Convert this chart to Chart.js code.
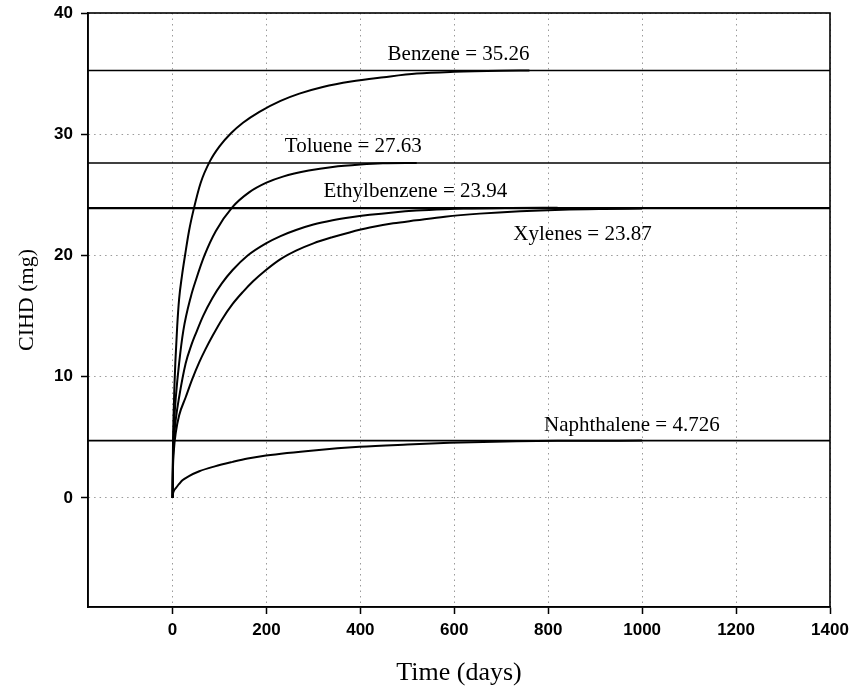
<!DOCTYPE html>
<html>
<head>
<meta charset="utf-8">
<script src="https://cdn.jsdelivr.net/npm/chart.js@4.4.0/dist/chart.umd.min.js"></script>
<style>
  html, body { margin: 0; padding: 0; background: #fff; }
  #wrap { width: 852px; height: 690px; }
</style>
</head>
<body>
<div id="wrap"><canvas id="c" width="852" height="690"></canvas></div>
<script>
// ---- Data ----
const xTicks = [0, 200, 400, 600, 800, 1000, 1200, 1400];
const yTicks = [0, 10, 20, 30, 40];

const compounds = ['Benzene', 'Toluene', 'Ethylbenzene', 'Xylenes', 'Naphthalene'];
const asymptotes = [35.26, 27.63, 23.94, 23.87, 4.726];

const benzeneT = [0, 1, 2, 4, 6, 10, 14, 20, 27, 35, 45, 60, 80, 100, 125, 150, 185, 230, 270, 320, 380, 450, 520, 600, 700, 760];
const benzeneY = [0, 4.5, 6.5, 9.2, 11.2, 14.2, 16.4, 18.3, 20.1, 22.0, 23.8, 26.0, 27.8, 29.0, 30.1, 30.95, 31.85, 32.75, 33.35, 33.9, 34.35, 34.7, 35.0, 35.15, 35.24, 35.26];

const tolueneT = [0, 1, 2, 4, 7, 14, 23, 39, 50, 68, 92, 128, 163, 200, 235, 290, 341, 400, 448, 520];
const tolueneY = [0, 3.4, 4.8, 6.6, 8.3, 11.1, 13.8, 16.6, 18.0, 20.0, 22.0, 24.0, 25.2, 26.0, 26.5, 27.0, 27.3, 27.5, 27.6, 27.63];

const ethylT = [0, 1, 3, 7, 14, 28, 40, 50, 65, 85, 105, 128, 160, 199, 230, 263, 300, 341, 380, 420, 470, 519, 580, 620, 720, 820];
const ethylY = [0, 3.0, 4.8, 6.5, 8.3, 11.1, 12.6, 13.6, 15.0, 16.5, 17.7, 18.8, 20.0, 21.0, 21.6, 22.1, 22.55, 22.9, 23.15, 23.35, 23.55, 23.7, 23.82, 23.87, 23.92, 23.94];

const xyleneT = [0, 1, 3, 7, 14, 28, 42, 57, 70, 85, 105, 128, 150, 171, 199, 230, 263, 300, 340, 377, 420, 470, 519, 580, 654, 740, 830, 920, 1000];
const xyleneY = [0, 2.5, 4.0, 5.4, 6.8, 8.3, 9.8, 11.2, 12.25, 13.35, 14.7, 16.0, 17.0, 17.85, 18.8, 19.7, 20.4, 21.0, 21.5, 21.9, 22.3, 22.65, 22.9, 23.2, 23.45, 23.65, 23.78, 23.84, 23.87];

const naphT = [0, 1, 3, 7, 14, 21, 35, 57, 90, 128, 160, 199, 306, 398, 500, 590, 732, 850, 1000];
const naphY = [0, 0.35, 0.6, 0.8, 1.15, 1.45, 1.8, 2.2, 2.6, 2.97, 3.25, 3.5, 3.94, 4.21, 4.40, 4.54, 4.68, 4.71, 4.726];

const X_MIN = -180, X_MAX = 1400, Y_MIN = -9, Y_MAX = 40;

// ---- Build datasets ----
const zip = (t, y) => t.map((v, i) => ({ x: v, y: y[i] }));
const curveSets = [
  zip(benzeneT, benzeneY), zip(tolueneT, tolueneY), zip(ethylT, ethylY),
  zip(xyleneT, xyleneY), zip(naphT, naphY)
];

const datasets = [];
compounds.forEach((name, i) => {
  datasets.push({
    label: name + ' limit',
    data: [{ x: X_MIN, y: asymptotes[i] }, { x: X_MAX, y: asymptotes[i] }],
    showLine: true, borderColor: '#000', borderWidth: 1.6, pointRadius: 0, tension: 0
  });
  datasets.push({
    label: name,
    data: curveSets[i],
    showLine: true, borderColor: '#000', borderWidth: 2, pointRadius: 0,
    cubicInterpolationMode: 'monotone'
  });
});

// label anchors (data coords): center x, baseline y
const labelAnchors = [
  { x: 609, y: 36.1 }, { x: 385, y: 28.55 }, { x: 517, y: 24.83 },
  { x: 873, y: 21.26 }, { x: 978, y: 5.5 }
];

const decorPlugin = {
  id: 'decor',
  afterDatasetsDraw(chart) {
    const { ctx, chartArea: a, scales: { x, y } } = chart;
    ctx.save();
    // frame
    ctx.strokeStyle = '#000';
    ctx.lineWidth = 1.6;
    ctx.strokeRect(a.left, a.top, a.right - a.left, a.bottom - a.top);
    // compound labels
    ctx.fillStyle = '#000';
    ctx.font = '21px "Liberation Serif", "Times New Roman", serif';
    ctx.textAlign = 'center';
    ctx.textBaseline = 'alphabetic';
    compounds.forEach((name, i) => {
      const p = labelAnchors[i];
      ctx.fillText(name + ' = ' + asymptotes[i], x.getPixelForValue(p.x), y.getPixelForValue(p.y));
    });
    // axis titles
    ctx.font = '26px "Liberation Serif", "Times New Roman", serif';
    ctx.fillText('Time (days)', (a.left + a.right) / 2, 680);
    ctx.save();
    ctx.translate(33, 300);
    ctx.rotate(-Math.PI / 2);
    ctx.font = '22px "Liberation Serif", "Times New Roman", serif';
    ctx.fillText('CIHD (mg)', 0, 0);
    ctx.restore();
    ctx.restore();
  }
};

const tickFont = { family: '"Liberation Sans", Arial, sans-serif', size: 17, weight: 'bold' };
const plain = v => String(v);

new Chart(document.getElementById('c'), {
  type: 'scatter',
  data: { datasets },
  options: {
    responsive: false,
    animation: false,
    devicePixelRatio: 1,
    layout: { padding: { left: 0, top: 13, right: 22, bottom: 0 } },
    plugins: { legend: { display: false }, tooltip: { enabled: false } },
    scales: {
      x: {
        type: 'linear', min: X_MIN, max: X_MAX,
        afterBuildTicks: s => { s.ticks = xTicks.map(v => ({ value: v })); },
        afterFit: s => { s.height = 83; s.paddingLeft = 0; s.paddingRight = 0; },
        ticks: { font: tickFont, color: '#000', padding: 6, maxRotation: 0, autoSkip: false, callback: plain },
        grid: { color: '#9a9a9a', lineWidth: 1, tickLength: 7, tickColor: '#000', tickWidth: 1.5 },
        border: { display: true, color: '#000', width: 1.6, dash: [1.5, 4] }
      },
      y: {
        type: 'linear', min: Y_MIN, max: Y_MAX,
        afterBuildTicks: s => { s.ticks = yTicks.map(v => ({ value: v })); },
        afterFit: s => { s.width = 88; s.paddingTop = 0; s.paddingBottom = 0; },
        ticks: { font: tickFont, color: '#000', padding: 8, autoSkip: false, callback: plain },
        grid: { color: '#9a9a9a', lineWidth: 1, tickLength: 7, tickColor: '#000', tickWidth: 1.5 },
        border: { display: true, color: '#000', width: 1.6, dash: [1.5, 4] }
      }
    }
  },
  plugins: [decorPlugin]
});
</script>
</body>
</html>
